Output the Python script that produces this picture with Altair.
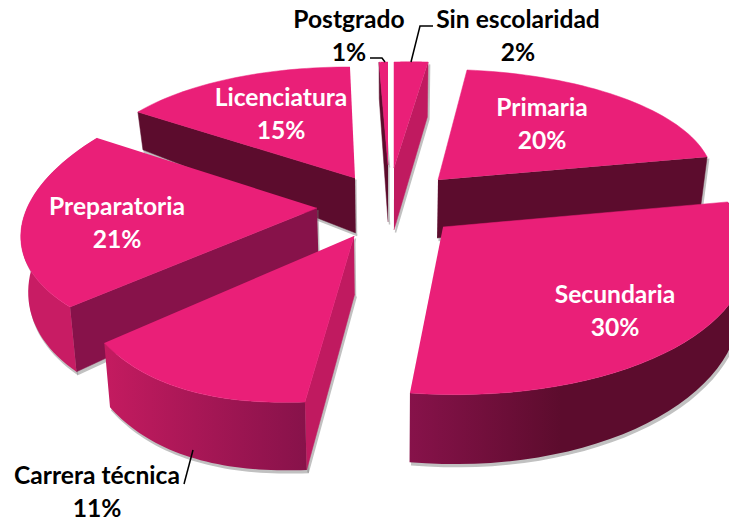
import math
import altair as alt

CATEGORIES = ["Sin escolaridad", "Primaria", "Secundaria", "Carrera técnica", "Preparatoria", "Licenciatura", "Postgrado"]
VALUES = [2, 20, 30, 11, 21, 15, 1]

W, H = 721, 514
TOP = "#EA1F78"
DARK = "#5C0C2D"
MID = "#87124A"
LIGHT = "#C01A60"

# projection of every wedge: apex, radii, shear, perspective, bulge, wall depth
GEOM = {
    "Sin escolaridad": dict(ax=394, ay=168, A=272, C=0, B=106, D=-6.7, k=0, b=0, d0=62, s=0.066),
    "Primaria": dict(ax=438, ay=180, A=275, C=-5.5, B=110.6, D=-2.4, k=0, b=0, d0=58, s=0.4),
    "Secundaria": dict(ax=443, ay=227, A=299.7, C=-9.5, B=142.5, D=0.94, k=0.15, b=0, d0=46, s=0.14),
    "Carrera técnica": dict(ax=354, ay=236, A=336, C=7, B=168.8, D=11.8, k=0, b=0.06, d0=58, s=0.06),
    "Preparatoria": dict(ax=317, ay=208, A=292, C=49.8, B=138.9, D=-5.3, k=0, b=0, d0=52, s=0.13),
    "Licenciatura": dict(ax=355, ay=178, A=264.5, C=11.6, B=110.7, D=7.9, k=0, b=0, d0=55, s=0.26),
    "Postgrado": dict(ax=388, ay=165, A=143, C=0, B=103, D=0, k=0, b=0, d0=57, s=0.2),
}
DRAW_ORDER = ["Licenciatura", "Postgrado", "Sin escolaridad", "Primaria", "Preparatoria", "Carrera técnica", "Secundaria"]
# which flat cut faces are seen: (0 start edge / 1 end edge, colour)
FLAT = {
    "Sin escolaridad": (1, LIGHT),
    "Primaria": (1, DARK),
    "Carrera técnica": (0, LIGHT),
    "Preparatoria": (0, MID),
    "Licenciatura": (0, DARK),
    "Postgrado": (0, DARK),
}
OUTER = {
    "Secundaria": [(0, MID), (0.45, DARK), (1, DARK)],
    "Carrera técnica": [(0, "#C41B60"), (1, MID)],
    "Preparatoria": [(0, "#C81C64"), (1, "#C81C64")],
}
LABELS = {
    "Primaria": (542, 109, "white"),
    "Secundaria": (615, 296, "white"),
    "Preparatoria": (117, 208, "white"),
    "Licenciatura": (281, 99, "white"),
    "Postgrado": (349, 21, "black"),
    "Sin escolaridad": (518, 21, "black"),
    "Carrera técnica": (97, 477, "black"),
}
LINE_GAP = 33
LEADERS = [
    [(370, 58), (382, 58), (385, 62)],
    [(433, 26), (420, 26), (411, 62)],
    [(184, 484), (193, 450)],
]

xs = alt.Scale(domain=[8, 8 + W], nice=False, zero=False)
ys = alt.Scale(domain=[8 + H, 8], nice=False, zero=False)


def pt(g, deg, frac):
    t = math.radians(deg)
    p = (1 + g["b"] * math.sin(math.pi * frac)) / (1 + g["k"] * math.cos(t))
    return (g["ax"] + (g["A"] * math.sin(t) + g["C"] * math.cos(t)) * p,
            g["ay"] + (-g["B"] * math.cos(t) + g["D"] * math.sin(t)) * p)


def lower(g, q):
    return (q[0] - (q[0] - 391) * 0.02, q[1] + g["d0"] + g["s"] * (q[1] - g["ay"]))


def layer(points, **style):
    vals = [{"x": a, "y": b, "i": i} for i, (a, b) in enumerate(points)]
    return alt.Chart(alt.Data(values=vals)).mark_line(clip=True, **style).encode(
        x=alt.X("x:Q", scale=xs, axis=None),
        y=alt.Y("y:Q", scale=ys, axis=None),
        order=alt.Order("i:Q"),
    )


def poly(points, fill):
    return layer(points, fill=fill, stroke=fill if isinstance(fill, str) else "#00000000",
                 strokeWidth=0.5 if isinstance(fill, str) else 0)


def shadow(points):
    return layer([(a + 1.5, b + 2.5) for a, b in points], fill="#777777", stroke="#777777",
                 strokeWidth=1.5, opacity=0.45)


spans = {}
cum = 0
for c, v in zip(CATEGORIES, VALUES):
    spans[c] = (cum * 3.6, (cum + v) * 3.6)
    cum += v

layers = []
for c in DRAW_ORDER:
    g = GEOM[c]
    a0, a1 = spans[c]
    n = 40
    arc = [pt(g, a0 + (a1 - a0) * i / n, i / n) for i in range(n + 1)]
    apex = (g["ax"], g["ay"])
    faces = []
    if c in FLAT:
        edge, col = FLAT[c]
        corner = arc[0] if edge == 0 else arc[-1]
        faces.append(([apex, corner, lower(g, corner), lower(g, apex)], col))
    if c in OUTER:
        stops = [alt.GradientStop(offset=o, color=k) for o, k in OUTER[c]]
        fill = alt.Gradient(gradient="linear", x1=0, x2=1, y1=0, y2=0, stops=stops)
        ring = arc if arc[0][0] < arc[-1][0] else arc[::-1]
        faces.append((ring + [lower(g, q) for q in ring[::-1]], fill))
    for pts, _ in faces:
        layers.append(shadow(pts))
    for pts, fill in faces:
        layers.append(poly(pts, fill))
    layers.append(poly([apex] + arc, TOP))

for line in LEADERS:
    layers.append(layer(line, color="black", strokeWidth=1.5))

text_rows = []
for c, v in zip(CATEGORIES, VALUES):
    lx, ly, col = LABELS[c]
    text_rows.append({"x": lx, "y": ly, "t": c, "col": col})
    text_rows.append({"x": lx, "y": ly + LINE_GAP, "t": f"{v}%", "col": col})
text = alt.Chart(alt.Data(values=text_rows)).mark_text(
    font="Lato", fontWeight="bold", fontSize=24.6, align="center", baseline="middle"
).encode(
    x=alt.X("x:Q", scale=xs, axis=None),
    y=alt.Y("y:Q", scale=ys, axis=None),
    text="t:N",
    color=alt.Color("col:N", scale=None),
)
layers.append(text)

chart = alt.layer(*layers).properties(
    width=W, height=H, padding=0, autosize=alt.AutoSizeParams(type="none"),
    background="white",
).configure_view(stroke=None)

chart.save("out.html", embed_options={"renderer": "svg", "actions": False})
